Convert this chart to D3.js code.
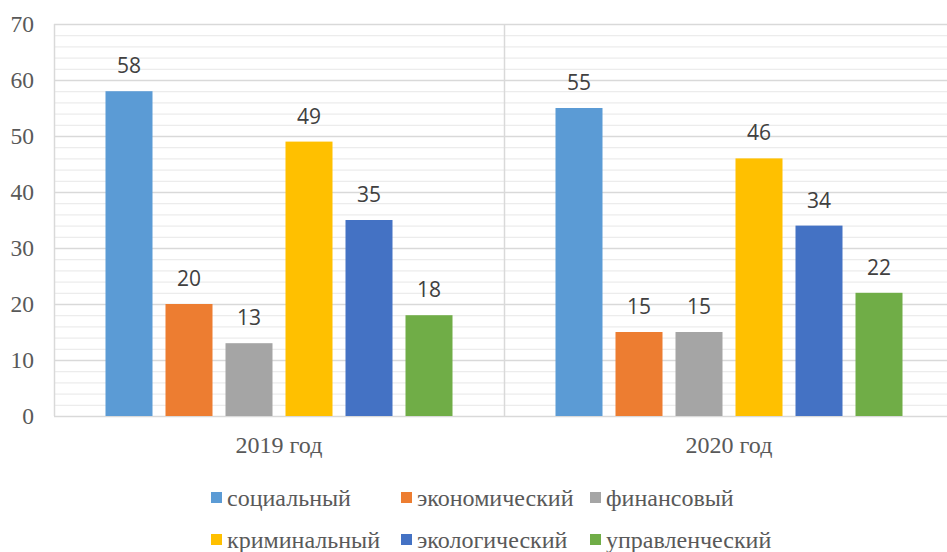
<!DOCTYPE html>
<html>
<head>
<meta charset="utf-8">
<script src="https://cdn.jsdelivr.net/npm/d3@7"></script>
<style>
  body { margin: 0; background: #fff; overflow: hidden; }
  svg { display: block; }
</style>
</head>
<body>
<div id="container1"></div>
<script>
// data
const years = ["2019 год", "2020 год"];
const series = ["социальный", "экономический", "финансовый", "криминальный", "экологический", "управленческий"];
const values2019 = [58, 20, 13, 49, 35, 18];
const values2020 = [55, 15, 15, 46, 34, 22];
const colors = ["#5B9BD5", "#ED7D31", "#A5A5A5", "#FFC000", "#4472C4", "#70AD47"];
const yTicks = [0, 10, 20, 30, 40, 50, 60, 70];

const rows = years.map((y, i) => ({
  year: y,
  vals: series.map((s, j) => ({ name: s, value: (i === 0 ? values2019 : values2020)[j], color: colors[j] }))
}));

const width = 947;
const height = 552;
const margin = { top: 24, right: -7, bottom: 136, left: 54 };
const innerWidth = width - margin.left - margin.right;
const innerHeight = height - margin.top - margin.bottom;

const serif = "'Liberation Serif', 'Times New Roman', serif";

const svg = d3.select("#container1")
  .append("svg")
  .attr("width", width)
  .attr("height", height);

const bounds = svg.append("g")
  .attr("transform", `translate(${margin.left},${margin.top})`);

// scales
const x = d3.scaleBand()
  .domain(years)
  .range([0, innerWidth]);

const xInner = d3.scaleBand()
  .domain(series)
  .range([-173.5, 173.5])
  .paddingInner(13 / 60);

const y = d3.scaleLinear()
  .domain([0, 70])
  .range([innerHeight, 0]);

// minor gridlines
bounds.append("g")
  .selectAll("line")
  .data(d3.range(0, 71, 2).filter(v => v % 10 !== 0))
  .join("line")
  .attr("x1", 0).attr("x2", innerWidth)
  .attr("y1", d => y(d) + 0.5).attr("y2", d => y(d) + 0.5)
  .attr("stroke", "#ececec")
  .attr("stroke-width", 1.2);

// major gridlines
bounds.append("g")
  .selectAll("line")
  .data(yTicks)
  .join("line")
  .attr("x1", 0).attr("x2", innerWidth)
  .attr("y1", d => y(d) + 0.5).attr("y2", d => y(d) + 0.5)
  .attr("stroke", "#d9d9d9")
  .attr("stroke-width", 1.5);

// left axis line and category divider
bounds.append("line")
  .attr("x1", 0.5).attr("x2", 0.5)
  .attr("y1", 0).attr("y2", innerHeight)
  .attr("stroke", "#d9d9d9").attr("stroke-width", 1.5);

bounds.append("line")
  .attr("x1", x(years[1]) + 0.5).attr("x2", x(years[1]) + 0.5)
  .attr("y1", 0).attr("y2", innerHeight)
  .attr("stroke", "#d9d9d9").attr("stroke-width", 1.5);

// y tick labels
bounds.append("g")
  .selectAll("text")
  .data(yTicks)
  .join("text")
  .attr("x", -20)
  .attr("y", d => y(d))
  .attr("dy", "0.35em")
  .attr("text-anchor", "end")
  .attr("font-family", serif)
  .attr("font-size", 23.5)
  .attr("fill", "#595959")
  .text(d => d);

// bars
const groups = bounds.selectAll(".group")
  .data(rows)
  .join("g")
  .attr("class", "group")
  .attr("transform", d => `translate(${x(d.year) + x.bandwidth() / 2},0)`);

groups.selectAll("rect")
  .data(d => d.vals)
  .join("rect")
  .attr("x", d => xInner(d.name))
  .attr("width", xInner.bandwidth())
  .attr("y", d => y(d.value))
  .attr("height", d => innerHeight - y(d.value))
  .attr("fill", d => d.color);

groups.selectAll("text.value")
  .data(d => d.vals)
  .join("text")
  .attr("class", "value")
  .attr("x", d => xInner(d.name) + xInner.bandwidth() / 2)
  .attr("y", d => y(d.value) - 18)
  .attr("text-anchor", "middle")
  .attr("font-family", "'Open Sans', sans-serif")
  .attr("font-size", 21)
  .attr("fill", "#404040")
  .text(d => d.value);

// category labels
bounds.append("g")
  .selectAll("text")
  .data(years)
  .join("text")
  .attr("x", d => x(d) + x.bandwidth() / 2)
  .attr("y", innerHeight + 37)
  .attr("text-anchor", "middle")
  .attr("font-family", serif)
  .attr("font-size", 24)
  .attr("fill", "#595959")
  .text(d => d);

// legend
const legendCols = [211, 401, 590];
const legendRows = [506, 548];
const legend = svg.append("g")
  .selectAll("g")
  .data(series)
  .join("g")
  .attr("transform", (d, i) => `translate(${legendCols[i % 3]},${legendRows[Math.floor(i / 3)]})`);

legend.append("rect")
  .attr("x", 0)
  .attr("y", -14)
  .attr("width", 11)
  .attr("height", 11)
  .attr("fill", (d, i) => colors[i]);

legend.append("text")
  .attr("x", 16)
  .attr("y", 0)
  .attr("font-family", serif)
  .attr("font-size", 24)
  .attr("fill", "#595959")
  .text(d => d);
</script>
</body>
</html>
